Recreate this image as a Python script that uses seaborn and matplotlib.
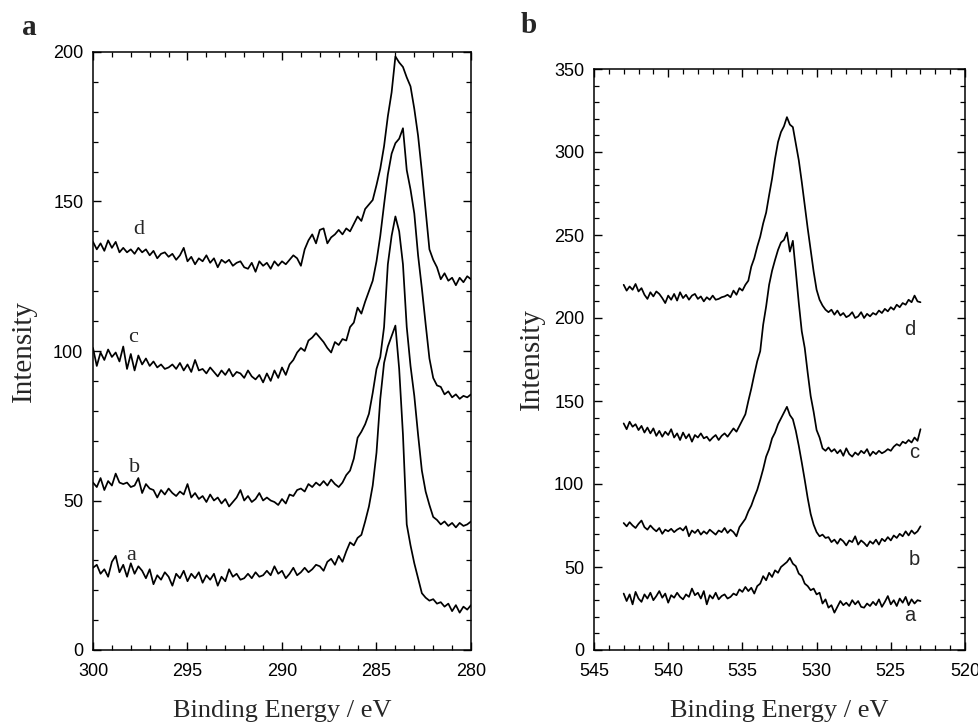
import numpy as np
import pandas as pd
import matplotlib
matplotlib.use("Agg")
import matplotlib.pyplot as plt
import seaborn as sns
from matplotlib.ticker import MultipleLocator

# ---------------- data ----------------
# Panel a: C 1s region, scan grid 300 -> 280 eV, 0.2 eV step
energy_a = np.linspace(300.0, 280.0, 101)

c1s_a = [27.5, 28.5, 25.5, 27.0, 24.5, 29.5, 31.5, 26.0, 28.5, 24.5,
         29.0, 25.5, 28.0, 26.5, 24.0, 27.0, 22.0, 25.0, 23.5, 26.0,
         24.5, 21.5, 25.5, 24.0, 26.5, 23.0, 25.5, 24.0, 26.0, 22.5,
         25.0, 23.5, 25.5, 21.5, 24.5, 23.0, 27.0, 24.5, 25.5, 23.5,
         24.0, 25.5, 24.0, 26.0, 24.5, 25.0, 26.5, 25.0, 28.0, 25.5,
         26.5, 24.0, 25.5, 27.5, 25.0, 26.0, 27.5, 26.0, 27.0, 28.5,
         28.0, 26.5, 29.5, 30.5, 28.5, 31.5, 29.5, 33.0, 36.0, 35.0,
         37.5, 38.5, 43.0, 48.0, 55.0, 66.0, 84.0, 96.0, 101.5, 105.0,
         108.5, 94.0, 72.0, 42.0, 35.0, 29.0, 24.0, 19.0, 17.5, 16.5,
         17.0, 15.5, 16.0, 14.5, 15.5, 13.0, 15.0, 12.5, 14.5, 13.5,
         15.0]

c1s_b = [56.0, 54.5, 57.5, 53.5, 56.5, 55.0, 59.0, 56.0, 55.5, 56.0,
         54.5, 55.0, 57.5, 52.5, 55.5, 54.0, 53.5, 51.0, 53.5, 52.0,
         54.0, 52.5, 51.5, 53.0, 52.0, 55.5, 51.0, 52.5, 50.5, 51.5,
         49.5, 52.0, 50.0, 51.0, 49.0, 50.5, 48.0, 49.5, 51.0, 53.5,
         50.0, 51.5, 49.5, 50.5, 52.5, 50.0, 51.0, 50.0, 49.5, 48.5,
         50.5, 49.0, 52.0, 51.5, 53.5, 54.0, 53.0, 55.5, 54.5, 56.0,
         55.0, 56.5, 55.0, 57.0, 55.5, 54.5, 56.0, 58.5, 60.0, 64.0,
         71.0, 73.0, 75.5, 79.0, 86.0, 94.0, 98.0, 108.0, 129.0, 138.5,
         145.0, 140.0, 129.0, 108.0, 95.0, 85.0, 72.0, 60.0, 53.0, 48.5,
         44.5, 43.5, 42.0, 43.0, 41.5, 42.5, 41.0, 42.5, 41.5, 42.0,
         43.0]

c1s_c = [101.0, 95.0, 99.5, 97.0, 100.5, 98.0, 99.5, 96.5, 101.5, 94.0,
         99.0, 93.5, 98.5, 95.5, 97.5, 95.0, 96.5, 94.5, 95.5, 94.0,
         94.5, 95.5, 94.0, 96.0, 93.5, 95.5, 93.0, 97.0, 93.5, 94.0,
         92.5, 94.5, 93.0, 91.5, 93.5, 92.0, 94.0, 91.5, 93.0, 92.5,
         91.0, 93.5, 91.5, 90.5, 92.0, 89.5, 92.5, 90.0, 93.5, 91.0,
         94.5, 92.0, 95.5, 97.0, 99.5, 101.0, 100.0, 103.5, 104.5, 106.0,
         104.5, 103.0, 101.0, 99.5, 103.0, 102.0, 104.0, 103.5, 108.0, 109.5,
         114.5, 112.5, 116.5, 120.0, 123.5, 130.0, 138.5, 149.0, 159.0, 166.0,
         169.5, 171.0, 174.5, 160.5, 154.0, 146.0, 132.0, 121.0, 109.0, 97.5,
         91.0, 88.5, 88.0, 85.5, 86.5, 84.5, 85.5, 84.0, 85.0, 84.5,
         85.5]

c1s_d = [136.5, 134.0, 136.0, 133.5, 137.0, 134.5, 136.5, 133.0, 134.5, 133.0,
         134.0, 132.5, 134.5, 133.0, 134.0, 132.0, 133.5, 131.0, 132.5, 133.0,
         131.5, 132.5, 130.5, 132.0, 134.5, 130.0, 131.5, 129.0, 131.0, 130.0,
         132.0, 129.5, 131.0, 128.0, 130.5, 129.5, 130.5, 128.5, 129.5, 130.0,
         128.0, 127.5, 129.5, 126.5, 130.0, 128.5, 129.5, 127.5, 130.0, 128.5,
         130.0, 129.0, 130.5, 132.0, 131.0, 128.5, 134.0, 137.0, 139.0, 136.0,
         140.5, 141.0, 136.0, 138.0, 139.0, 140.5, 139.0, 141.0, 140.0, 142.5,
         145.0, 143.5, 147.5, 149.0, 150.5, 155.5, 161.0, 168.5, 178.5, 186.5,
         198.5, 196.5, 195.0, 191.5, 188.5, 181.0, 172.0, 160.0, 147.0, 134.0,
         130.5, 128.0, 124.0, 126.0, 123.5, 124.5, 122.0, 124.5, 123.0, 125.0,
         124.0]

# Panel b: O 1s region, scan grid 543 -> 523 eV, 0.2 eV step
energy_b = np.linspace(543.0, 523.0, 101)

o1s_a = [34.0, 29.5, 33.5, 27.5, 35.0, 31.0, 29.0, 33.5, 31.0, 34.5,
         30.0, 32.5, 35.5, 31.5, 34.0, 28.5, 33.0, 31.5, 34.5, 32.0,
         30.5, 33.5, 32.0, 37.0, 33.0, 34.5, 31.0, 35.5, 27.5, 33.0,
         31.0, 34.5, 30.5, 32.5, 33.5, 31.0, 32.0, 34.0, 33.0, 36.5,
         35.0, 38.0, 35.5, 37.5, 34.0, 38.5, 40.0, 44.5, 42.0, 46.5,
         44.0, 48.0, 46.5, 50.0, 51.5, 53.0, 55.5, 52.0, 50.5, 46.0,
         44.5, 40.0, 38.5, 36.0, 37.0, 33.5, 34.5, 28.0, 30.5, 25.5,
         27.0, 22.5, 26.0, 29.5, 27.0, 28.5, 26.5, 30.0, 27.5, 29.5,
         26.0, 25.5, 28.0, 26.5, 29.0, 27.0, 30.5, 26.0, 29.0, 32.5,
         27.5, 30.0, 26.5, 31.0, 28.5, 32.0, 27.0, 30.5, 28.0, 30.0,
         29.5]

o1s_b = [76.5, 74.5, 77.0, 75.0, 73.5, 76.0, 78.0, 74.0, 72.5, 75.0,
         73.0, 71.5, 73.5, 70.0, 72.5, 71.5, 73.0, 71.0, 72.5, 73.5,
         72.0, 74.5, 68.5, 72.0, 70.5, 72.5, 69.5, 71.5, 70.0, 72.5,
         71.0, 69.5, 72.0, 71.0, 73.5, 70.5, 72.5, 71.0, 68.5, 74.0,
         76.5, 79.0, 83.5, 87.0, 92.0, 96.5, 102.5, 109.0, 116.5, 121.0,
         127.5, 131.0, 136.0, 139.5, 143.0, 146.5, 141.5, 139.0, 132.0, 123.0,
         113.0, 102.5, 91.5, 82.0, 75.5, 71.0, 68.5, 69.5, 67.5, 68.0,
         65.0, 66.5, 64.0, 67.0, 65.5, 63.0, 66.0, 65.0, 68.5, 63.5,
         66.0, 64.5, 62.5, 65.5, 64.0, 66.5, 63.5, 67.0, 65.5, 68.0,
         66.0, 69.0, 67.5, 70.0, 68.5, 71.5, 69.0, 72.0, 70.0, 71.5,
         74.5]

o1s_c = [136.5, 133.0, 137.5, 134.5, 136.0, 132.5, 135.0, 131.0, 134.0, 130.5,
         133.5, 129.0, 132.0, 128.5, 131.5, 129.5, 133.0, 128.0, 130.5, 126.5,
         131.0, 127.5, 130.0, 125.5, 129.5, 128.0, 130.5, 127.5, 128.5, 126.0,
         128.0, 129.5, 126.5, 129.0, 130.5, 128.5, 131.0, 133.5, 131.5, 135.0,
         138.5, 142.0, 150.0, 157.5, 166.0, 174.0, 180.0, 196.0, 207.0, 220.0,
         228.5, 235.0, 241.0, 245.5, 247.0, 251.5, 240.0, 246.5, 228.0, 209.0,
         192.0, 182.0, 167.0, 153.0, 143.5, 132.5, 128.0, 121.5, 120.0, 122.0,
         119.5, 121.0, 118.5, 120.5, 117.0, 121.5, 118.0, 116.5, 119.0, 117.5,
         120.0, 118.5, 121.0, 117.0, 119.5, 118.0, 120.0, 118.5, 119.5, 121.0,
         120.0, 122.5, 124.0, 123.0, 125.5, 124.5, 126.5, 125.0, 128.0, 126.0,
         133.0]

o1s_d = [220.0, 216.5, 219.0, 217.0, 220.5, 216.0, 218.0, 214.0, 211.5, 215.5,
         213.0, 216.0, 214.5, 212.0, 209.0, 213.5, 211.0, 214.5, 210.5, 215.5,
         212.0, 214.0, 211.0, 213.5, 214.5, 211.5, 213.0, 210.0, 212.5, 211.0,
         213.5, 211.0, 211.5, 212.5, 213.0, 214.0, 212.5, 216.5, 214.0, 218.0,
         216.5, 220.0, 222.5, 231.0, 236.0, 243.0, 249.0, 257.0, 263.5, 274.0,
         284.0, 296.0, 306.0, 312.0, 315.5, 321.0, 316.5, 315.0, 305.0, 295.0,
         282.0, 268.0, 254.0, 241.0, 228.0, 217.0, 211.0, 207.5, 205.0, 203.5,
         205.0, 202.0, 204.5, 201.5, 203.0, 200.5, 201.5, 203.5, 200.0, 201.0,
         203.5, 200.0, 202.5, 201.0, 203.0, 202.0, 204.5, 203.0, 205.5, 204.0,
         206.5, 205.0, 208.0, 206.5, 209.0, 208.0, 211.0, 209.5, 213.5, 210.0,
         209.5]

series_names = ["a", "b", "c", "d"]
panel_a_series = [c1s_a, c1s_b, c1s_c, c1s_d]
panel_b_series = [o1s_a, o1s_b, o1s_c, o1s_d]

# curve label anchor points (energy, intensity)
label_pos_a = {"a": (298.0, 31.5), "b": (297.8, 61.0), "c": (297.9, 104.5), "d": (297.6, 140.7)}
label_pos_b = {"a": (523.7, 21.0), "b": (523.4, 54.8), "c": (523.4, 119.0), "d": (523.7, 193.3)}

x_label = "Binding Energy / eV"
y_label = "Intensity"

# ---------------- style ----------------
sns.set_style("ticks")
plt.rcParams["font.family"] = ["Liberation Sans", "DejaVu Sans"]
plt.rcParams["axes.linewidth"] = 1.1
plt.rcParams["xtick.major.width"] = 1.0
plt.rcParams["ytick.major.width"] = 1.0
plt.rcParams["xtick.minor.width"] = 0.9
plt.rcParams["ytick.minor.width"] = 0.9

fig = plt.figure(figsize=(9.79, 7.25), dpi=100)
ax_a = fig.add_axes([93 / 979, 1 - 650 / 725, 378 / 979, 598 / 725])
ax_b = fig.add_axes([594 / 979, 1 - 650 / 725, 371 / 979, 581 / 725])

serif = ["Liberation Serif", "DejaVu Serif"]


def draw(ax, energy, series, xlim, ylim, xmaj, ymaj, ymin_loc):
    rows = []
    for name, vals in zip(series_names, series):
        for e, v in zip(energy, vals):
            rows.append({"energy": e, "intensity": v, "sample": name})
    df = pd.DataFrame(rows)
    sns.lineplot(data=df, x="energy", y="intensity", units="sample",
                 estimator=None, color="black", lw=1.25, ax=ax, legend=False)
    ax.set_xlim(*xlim)
    ax.set_ylim(*ylim)
    ax.xaxis.set_major_locator(MultipleLocator(xmaj))
    ax.xaxis.set_minor_locator(MultipleLocator(1))
    ax.yaxis.set_major_locator(MultipleLocator(ymaj))
    ax.yaxis.set_minor_locator(MultipleLocator(ymin_loc))
    ax.tick_params(which="both", direction="in", top=True, right=True,
                   labelsize=13, colors="black")
    ax.tick_params(which="major", length=6)
    ax.tick_params(which="minor", length=3.5)
    ax.tick_params(axis="x", which="major", pad=9)
    ax.tick_params(axis="y", which="major", pad=7)
    for s in ax.spines.values():
        s.set_visible(True)
        s.set_color("black")
    ax.set_xlabel(x_label, fontsize=19, family=serif)
    ax.set_ylabel(y_label, fontsize=21, family=serif)


draw(ax_a, energy_a, panel_a_series, (300, 280), (0, 200), 5, 50, 10)
draw(ax_b, energy_b, panel_b_series, (545, 520), (0, 350), 5, 50, 10)

ax_a.xaxis.set_label_coords(0.5, -0.083)
ax_a.yaxis.set_label_coords(-0.148, 0.5)
ax_b.xaxis.set_label_coords(0.5, -0.086)
ax_b.yaxis.set_label_coords(-0.133, 0.5)

for name, (e, v) in label_pos_a.items():
    ax_a.text(e, v, name, fontsize=16, family=serif, ha="center", va="center")
for name, (e, v) in label_pos_b.items():
    ax_b.text(e, v, name, fontsize=14.5, ha="center", va="center")

fig.text(29 / 979, 1 - 35 / 725, "a", fontsize=21, fontweight="bold",
         family=serif, ha="center", va="baseline")
fig.text(529 / 979, 1 - 33 / 725, "b", fontsize=21, fontweight="bold",
         family=serif, ha="center", va="baseline")

fig.savefig("out.png", dpi=100)
